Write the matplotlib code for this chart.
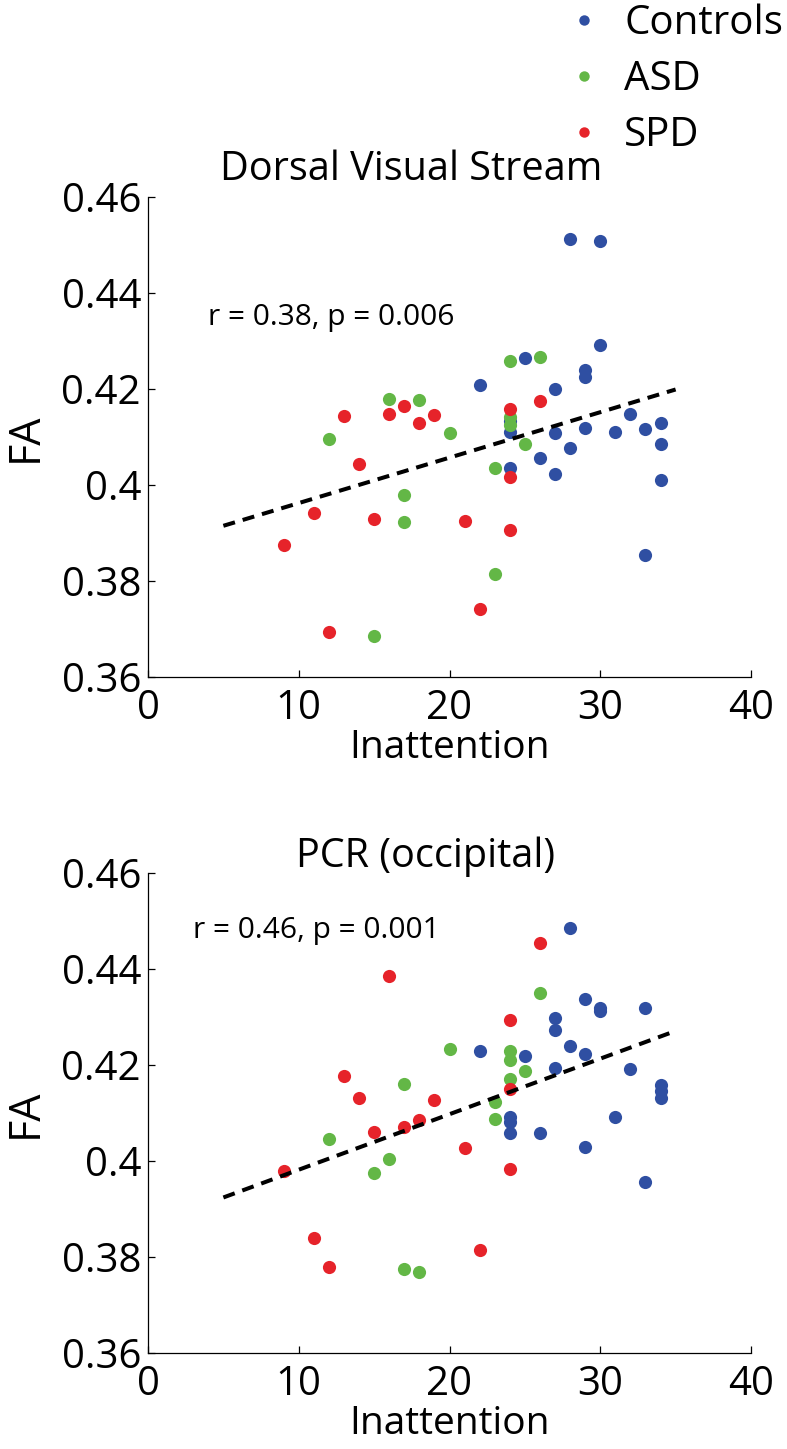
import matplotlib.pyplot as plt
from matplotlib.lines import Line2D

plt.rcParams['font.family'] = ['Open Sans', 'DejaVu Sans']

########## Data

## Dorsal Visual Stream
dvs_ctrl_x = [28, 30, 30, 25, 29, 29, 22, 27, 32, 24, 34, 29, 33, 24, 31, 27, 34, 28, 26, 24, 27, 34, 33]
dvs_ctrl_y = [0.4512, 0.4509, 0.4291, 0.4264, 0.4240, 0.4226, 0.4208, 0.4199, 0.4148, 0.4133, 0.4130, 0.4118,
              0.4117, 0.4111, 0.4111, 0.4108, 0.4085, 0.4078, 0.4057, 0.4036, 0.4022, 0.4010, 0.3855]
dvs_asd_x = [12, 16, 18, 20, 24, 26, 24, 24, 25, 23, 17, 17, 23, 15]
dvs_asd_y = [0.4096, 0.4180, 0.4177, 0.4108, 0.4258, 0.4266, 0.4142, 0.4124, 0.4085, 0.4035, 0.3980, 0.3923,
             0.3815, 0.3686]
dvs_spd_x = [13, 16, 17, 18, 19, 14, 11, 15, 21, 9, 12, 26, 24, 24, 24, 22]
dvs_spd_y = [0.4144, 0.4147, 0.4165, 0.4130, 0.4145, 0.4044, 0.3942, 0.3929, 0.3924, 0.3874, 0.3694, 0.4175,
             0.4159, 0.4016, 0.3906, 0.3742]
dvs_fit_x = [5, 35]
dvs_fit_y = [0.3915, 0.4199]
dvs_stat = "r = 0.38, p = 0.006"

## PCR (occipital)
pcr_ctrl_x = [28, 29, 30, 30, 33, 27, 27, 28, 22, 29, 25, 27, 32, 34, 34, 34, 24, 31, 24, 24, 26, 29, 33]
pcr_ctrl_y = [0.4486, 0.4338, 0.4318, 0.4312, 0.4319, 0.4297, 0.4272, 0.4240, 0.4229, 0.4222, 0.4219, 0.4194,
              0.4192, 0.4158, 0.4145, 0.4132, 0.4092, 0.4092, 0.4082, 0.4058, 0.4058, 0.4030, 0.3956]
pcr_asd_x = [26, 20, 24, 24, 17, 25, 24, 23, 23, 12, 16, 15, 17, 18]
pcr_asd_y = [0.4351, 0.4233, 0.4229, 0.4210, 0.4161, 0.4188, 0.4171, 0.4122, 0.4088, 0.4046, 0.4004, 0.3974,
             0.3775, 0.3769]
pcr_spd_x = [16, 26, 24, 13, 14, 19, 18, 17, 15, 24, 21, 24, 9, 22, 11, 12]
pcr_spd_y = [0.4385, 0.4455, 0.4294, 0.4178, 0.4131, 0.4128, 0.4085, 0.4071, 0.4060, 0.4151, 0.4028, 0.3983,
             0.3980, 0.3814, 0.3839, 0.3779]
pcr_fit_x = [5, 35]
pcr_fit_y = [0.3924, 0.4271]
pcr_stat = "r = 0.46, p = 0.001"

groups = ["Controls", "ASD", "SPD"]
colors = ["#2f4fa2", "#63b746", "#e6232a"]

x_ticks = [0, 10, 20, 30, 40]
y_ticks = [0.36, 0.38, 0.40, 0.42, 0.44, 0.46]
y_tick_labels = ["0.36", "0.38", "0.4", "0.42", "0.44", "0.46"]

W, H = 787, 1449
fig = plt.figure(figsize=(W / 100, H / 100), dpi=100)


def draw_panel(ax, xs, ys, fit_x, fit_y, title, stat, stat_xy, title_xy):
    for x, y, c in zip(xs, ys, colors):
        ax.scatter(x, y, s=90, color=c, linewidths=0, zorder=2)
    ax.plot(fit_x, fit_y, color='black', lw=2.9, linestyle=(0, (3, 2)), zorder=3)
    ax.set_xlim(0, 40)
    ax.set_ylim(0.36, 0.46)
    ax.set_xticks(x_ticks)
    ax.set_yticks(y_ticks)
    ax.set_yticklabels(y_tick_labels)
    ax.spines['top'].set_visible(False)
    ax.spines['right'].set_visible(False)
    for s in ['left', 'bottom']:
        ax.spines[s].set_linewidth(0.9)
    ax.tick_params(direction='in', length=5, width=0.9, labelsize=29)
    ax.tick_params(axis='x', pad=8)
    ax.tick_params(axis='y', pad=5)
    ax.set_xlabel("Inattention", fontsize=28, labelpad=0)
    ax.set_ylabel("FA", fontsize=31, labelpad=10)
    ax.text(stat_xy[0], stat_xy[1], stat, fontsize=21.5, ha='left', va='center')
    ax.text(title_xy[0], title_xy[1], title, fontsize=28.5, ha='center', va='baseline',
            transform=ax.transAxes)


ax1 = fig.add_axes([148 / W, 1 - 677 / H, 603 / W, 480 / H])
draw_panel(ax1, [dvs_ctrl_x, dvs_asd_x, dvs_spd_x], [dvs_ctrl_y, dvs_asd_y, dvs_spd_y],
           dvs_fit_x, dvs_fit_y, "Dorsal Visual Stream", dvs_stat, (4.0, 0.435), (0.436, 1.035))

ax2 = fig.add_axes([148 / W, 1 - 1353 / H, 603 / W, 480 / H])
draw_panel(ax2, [pcr_ctrl_x, pcr_asd_x, pcr_spd_x], [pcr_ctrl_y, pcr_asd_y, pcr_spd_y],
           pcr_fit_x, pcr_fit_y, "PCR (occipital)", pcr_stat, (3.0, 0.4481), (0.461, 1.0125))

## Legend in the top right corner
handles = [Line2D([], [], marker='o', linestyle='none', markersize=7.5, markerfacecolor=c,
                  markeredgewidth=0) for c in colors]
fig.legend(handles, groups, loc='upper left', bbox_to_anchor=(574 / W, 1 - 3.5 / H), frameon=False,
           fontsize=29, handlelength=0.5, handletextpad=0.75, labelspacing=0.39, borderpad=0,
           borderaxespad=0)

fig.savefig("out.png", dpi=100)
